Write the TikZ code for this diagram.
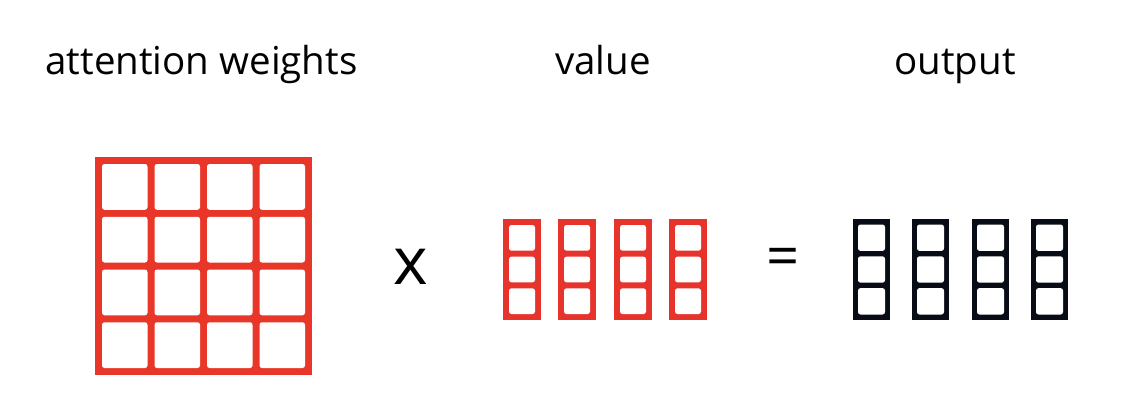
\documentclass[tikz,border=0pt]{standalone}
\usepackage{fontspec}
\setmainfont{Open Sans}
\definecolor{wred}{RGB}{232,55,40}
\definecolor{vred}{RGB}{230,52,45}
\definecolor{oblk}{RGB}{8,12,20}
\tikzset{
  label/.style={anchor=base,inner sep=0pt,font=\fontsize{38.5}{44}\selectfont,text=black},
  op/.style={anchor=center,inner sep=0pt,text=black},
  cell/.style={fill=white,rounded corners=2.5pt}
}
\begin{document}
\begin{tikzpicture}[x=1pt,y=-1pt]
\useasboundingbox (0,0) rectangle (1128,416);
\fill[white] (0,0) rectangle (1128,416);
% labels
\node[label] (lw) at (201.5,74) {attention weights};
\node[label] (lv) at (603,74) {value};
\node[label] (lo) at (955,74) {output};
% attention weights matrix
\fill[wred] (95,157) rectangle (312,375);
\foreach \i in {0,1,2,3}{
  \foreach \j in {0,1,2,3}{
    \fill[cell] ({102+\i*52.5},{164+\j*52.75}) rectangle ++(45.5,45.75);
  }
}
% operator x
\node[op,font=\fontsize{66}{70}\selectfont] (times) at (411,267) {x};
% value columns
\foreach \x in {503,558,614,669}{
  \fill[vred] (\x,219) rectangle ++(38,101);
  \foreach \j in {0,1,2}{
    \fill[cell] ({\x+6},{225+\j*31.67}) rectangle ++(26,25.67);
  }
}
% operator =
\node[op,font=\fontsize{58}{60}\selectfont] (eq) at (783.5,262) {=};
% output columns
\foreach \x in {853,912,972,1031}{
  \fill[oblk] (\x,219) rectangle ++(37,101);
  \foreach \j in {0,1,2}{
    \fill[cell] ({\x+5},{224.5+\j*31.8}) rectangle ++(27,26.4);
  }
}
\end{tikzpicture}
\end{document}
